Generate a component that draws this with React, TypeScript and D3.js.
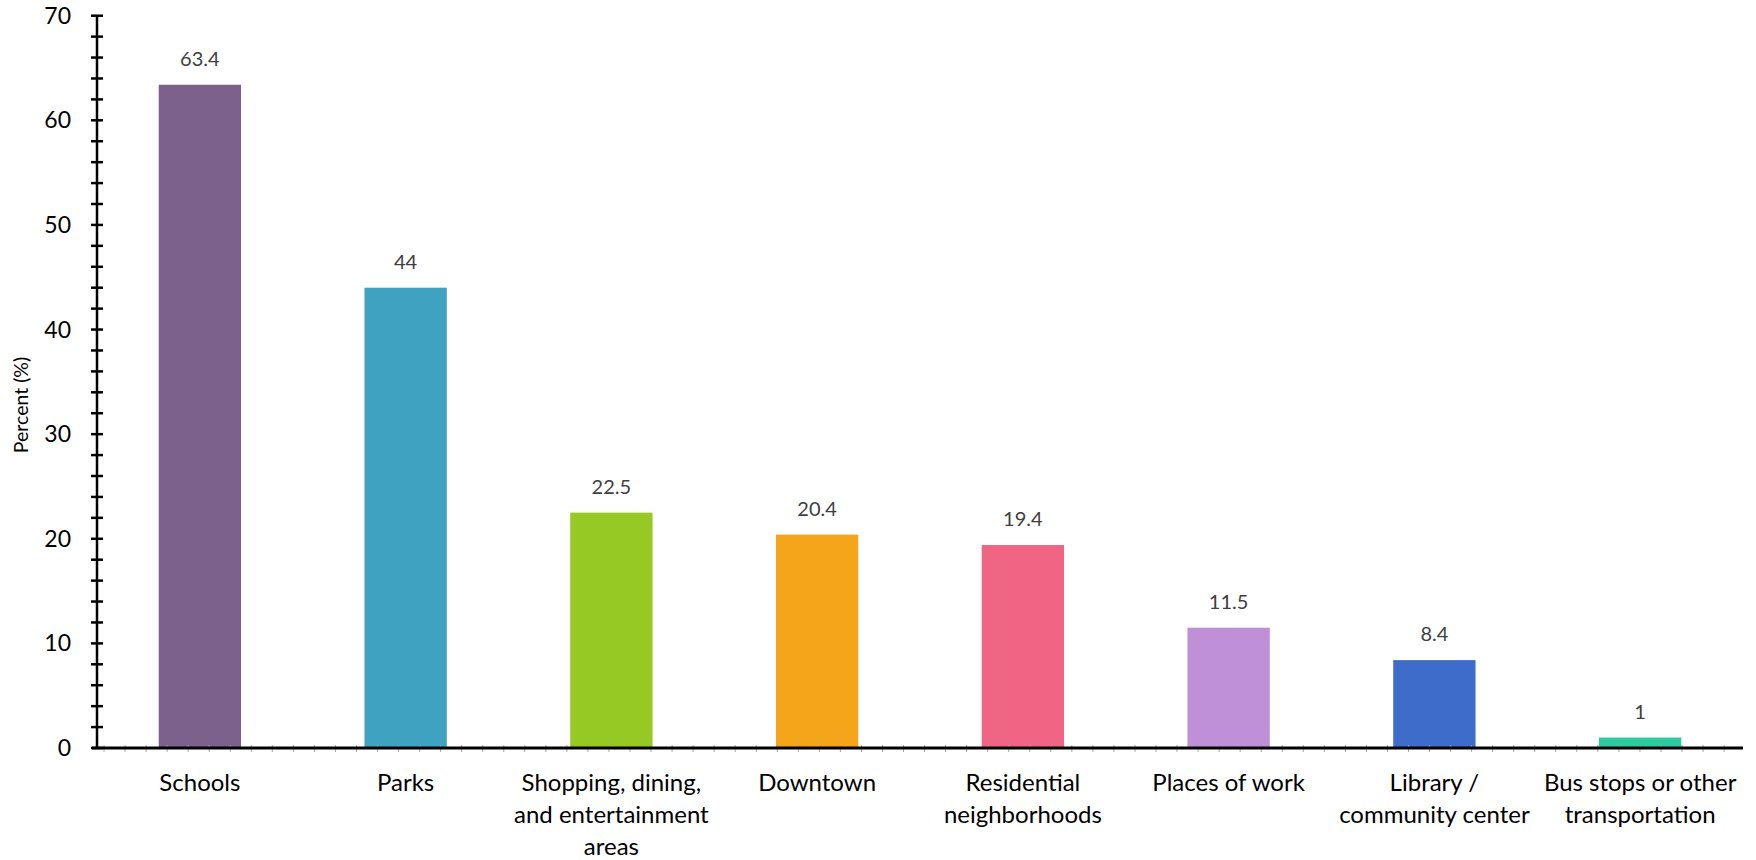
import React from "react";
import * as d3 from "d3";

const categories = [
  "Schools",
  "Parks",
  "Shopping, dining, and entertainment areas",
  "Downtown",
  "Residential neighborhoods",
  "Places of work",
  "Library / community center",
  "Bus stops or other transportation",
];
const categoryLines: string[][] = [
  ["Schools"],
  ["Parks"],
  ["Shopping, dining,", "and entertainment", "areas"],
  ["Downtown"],
  ["Residential", "neighborhoods"],
  ["Places of work"],
  ["Library /", "community center"],
  ["Bus stops or other", "transportation"],
];
const values = [63.4, 44, 22.5, 20.4, 19.4, 11.5, 8.4, 1];
const valueLabels = ["63.4", "44", "22.5", "20.4", "19.4", "11.5", "8.4", "1"];
const colors = ["#7B618C", "#3FA2C0", "#97C924", "#F4A51A", "#EF6583", "#BF8FD8", "#3D6CCA", "#2ECBA0"];
const yMajorTicks = [0, 10, 20, 30, 40, 50, 60, 70];
const yMinorTicks = d3.range(0, 70.001, 2);
const yTitle = "Percent (%)";

const W = 1756;
const H = 860;
const FONT = "Lato, 'Open Sans', sans-serif";

export default function App() {
  const x0 = 97;
  const x1 = 1743;
  const yBase = 748;
  const yTop = 15.7;
  const x = d3.scaleBand<string>().domain(categories).range([x0, x1]).paddingInner(0.6).paddingOuter(0.3);
  const y = d3.scaleLinear().domain([0, 70]).range([yBase, yTop]);
  const gray = d3.range(104, x1 + 1, 21.04);

  return (
    <svg width={W} height={H} style={{ position: "absolute", left: 0, top: 0, background: "#fff" }} fontFamily={FONT}>
      {categories.map((c, i) => (
        <rect key={c} x={x(c)!} y={y(values[i])} width={x.bandwidth()} height={yBase - y(values[i])} fill={colors[i]} />
      ))}
      {categories.map((c, i) => (
        <text key={"v" + c} x={x(c)! + x.bandwidth() / 2} y={y(values[i]) - 19} textAnchor="middle" fontSize={20} fill="#404040">
          {valueLabels[i]}
        </text>
      ))}
      {/* faint minor ticks on x axis */}
      {gray.map((g, i) => (
        <line key={"g" + i} x1={g} x2={g} y1={yBase - 3} y2={yBase + 4} stroke="#a6a6a6" strokeWidth={1} />
      ))}
      {/* y axis */}
      <line x1={x0} x2={x0} y1={yTop} y2={yBase} stroke="#000" strokeWidth={2.5} />
      {yMinorTicks.map((t) => (
        <line key={"m" + t} x1={x0 - 6} x2={x0 + 6} y1={y(t)} y2={y(t)} stroke="#000" strokeWidth={2.5} />
      ))}
      {yMajorTicks.map((t) => (
        <text key={"t" + t} x={71} y={y(t)} dy="0.35em" textAnchor="end" fontSize={23} fill="#000">
          {t}
        </text>
      ))}
      {/* x axis */}
      <line x1={x0 - 5} x2={x1} y1={yBase} y2={yBase} stroke="#000" strokeWidth={3} />
      {categories.map((c, i) => (
        <text key={"x" + c} x={x(c)! + x.bandwidth() / 2} y={791} textAnchor="middle" fontSize={24} fill="#000">
          {categoryLines[i].map((l, j) => (
            <tspan key={j} x={x(c)! + x.bandwidth() / 2} y={791 + j * 32}>
              {l}
            </tspan>
          ))}
        </text>
      ))}
      <text transform={`translate(28,405) rotate(-90)`} textAnchor="middle" fontSize={19.5} fill="#000">
        {yTitle}
      </text>
    </svg>
  );
}
